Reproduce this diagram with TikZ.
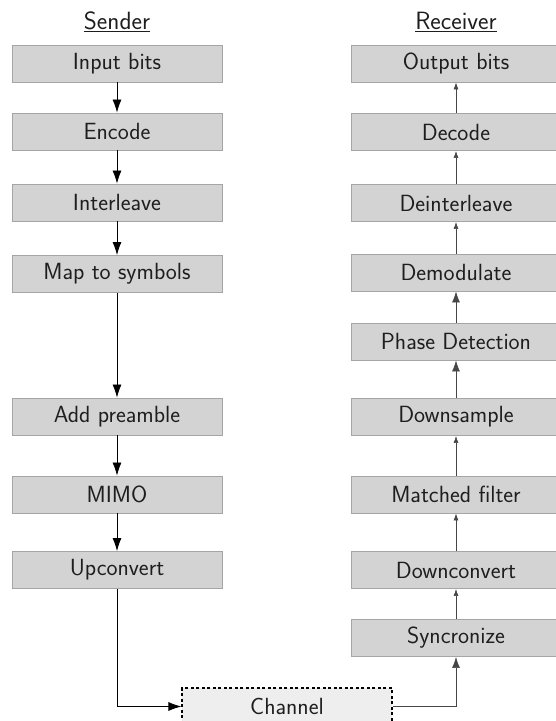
\documentclass[tikz,border=0pt]{standalone}
\usepackage{fontspec}
\usetikzlibrary{arrows.meta}
\definecolor{boxfill}{RGB}{211,211,211}
\definecolor{boxline}{RGB}{165,165,165}
\definecolor{chfill}{RGB}{238,238,238}
\definecolor{txt}{RGB}{30,30,30}
\definecolor{rline}{RGB}{70,70,70}
\tikzset{
  blk/.style={draw=boxline, line width=0.9pt, fill=boxfill, minimum width=210pt, minimum height=37pt,
    inner sep=0pt, text=txt, font=\sffamily\fontsize{23.4}{26}\selectfont},
  chan/.style={draw=black, line width=1.1pt, dash pattern=on 3pt off 2.5pt, fill=chfill,
    minimum width=210pt, minimum height=37pt, inner sep=0pt, text=txt, font=\sffamily\fontsize{23.4}{26}\selectfont},
  ttl/.style={text=txt, font=\sffamily\fontsize{25}{28}\selectfont, inner sep=0pt},
  big/.style={draw=black, line width=0.8pt, -{Latex[length=13pt,width=9pt]}},
  rbig/.style={draw=rline, line width=0.7pt, -{Latex[length=11pt,width=8pt]}},
  rsmall/.style={draw=rline, line width=0.7pt, -{Latex[length=7pt,width=5pt]}},
}
\begin{document}
\begin{tikzpicture}[x=1pt,y=-1pt]
\useasboundingbox (0,0) rectangle (555,721);
% titles
\node[ttl] (tS) at (117,22) {\underline{Sender}};
\node[ttl] (tR) at (456,22) {\underline{Receiver}};
% sender
\node[blk] (in)  at (117,63.5) {Input bits};
\node[blk] (enc) at (117,131.5) {Encode};
\node[blk] (il)  at (117,202.5) {Interleave};
\node[blk] (map) at (117,274) {Map to symbols};
\node[blk] (pre) at (117,416.5) {Add preamble};
\node[blk] (mimo) at (117,494.5) {MIMO};
\node[blk] (up)  at (117,570) {Upconvert};
% receiver
\node[blk] (out) at (456,63.5) {Output bits};
\node[blk] (dec) at (456,132) {Decode};
\node[blk] (dil) at (456,203) {Deinterleave};
\node[blk] (dem) at (456,272.5) {Demodulate};
\node[blk] (ph)  at (456,341.5) {Phase Detection};
\node[blk] (ds)  at (456,417) {Downsample};
\node[blk] (mf)  at (456,494.5) {Matched filter};
\node[blk] (dc)  at (456,570) {Downconvert};
\node[blk] (sy)  at (456,638) {Syncronize};
% channel
\node[chan] (ch) at (287,706.5) {Channel};
% sender arrows
\draw[big] (in) -- (enc);
\draw[big] (enc) -- (il);
\draw[big] (il) -- (map);
\draw[big] (map) -- (pre);
\draw[big] (pre) -- (mimo);
\draw[big] (mimo) -- (up);
\draw[big] (up.south) |- (ch.west);
% receiver arrows
\draw[rbig] (ch.east) -| (sy.south);
\draw[rsmall] (sy) -- (dc);
\draw[rsmall] (dc) -- (mf);
\draw[rsmall] (mf) -- (ds);
\draw[rbig] (ds) -- (ph);
\draw[rbig] (ph) -- (dem);
\draw[rsmall] (dem) -- (dil);
\draw[rsmall] (dil) -- (dec);
\draw[rsmall] (dec) -- (out);
\end{tikzpicture}
\end{document}
